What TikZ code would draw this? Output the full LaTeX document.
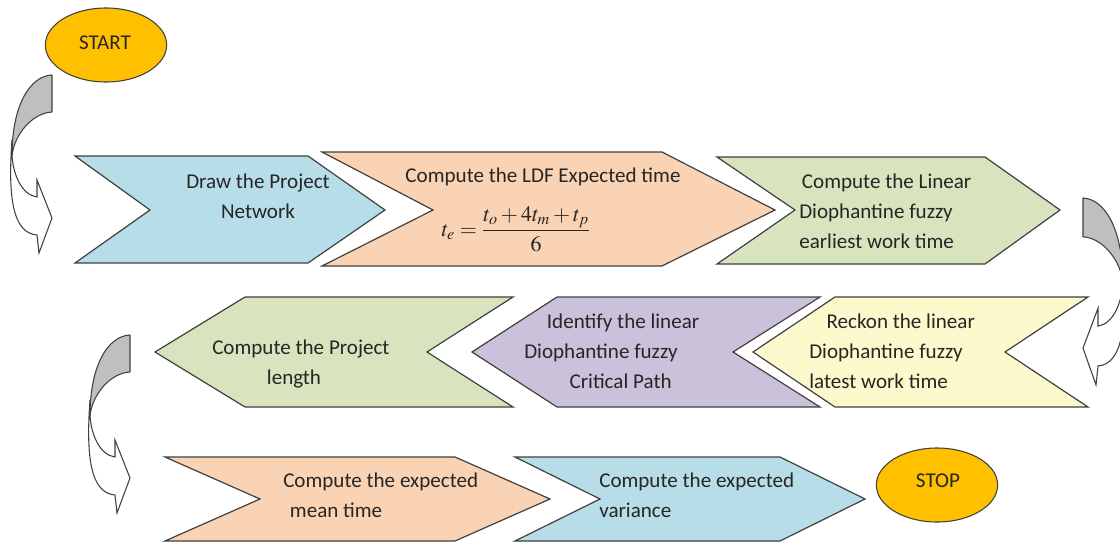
\documentclass[tikz,border=0pt]{standalone}
\usepackage{mathptmx}
\usepackage{fontspec}
\setmainfont{Carlito}
\usetikzlibrary{shapes.geometric}
\definecolor{cblue}{HTML}{B7DDE8}
\definecolor{cpeach}{HTML}{FAD3B4}
\definecolor{cgreen}{HTML}{D7E4BD}
\definecolor{cpurple}{HTML}{CCC1DA}
\definecolor{cyellow}{HTML}{FCF9CC}
\definecolor{corange}{HTML}{FFC000}
\definecolor{cgray}{HTML}{BFBFBF}
\definecolor{edgec}{HTML}{404040}
\definecolor{textc}{HTML}{262626}
\newcommand{\curvedarrowshape}{%
  \draw[frontband] (-40,65) .. controls (-44,120) and (-40,158) .. (-15,160)
     -- (-13,178) -- (0,143) -- (-15,105) -- (-15,122)
     .. controls (-30,120) and (-39,100) .. (-40,80) -- cycle;
  \draw[backband] (0,0) .. controls (-22,1) and (-40,30) .. (-40,81)
     .. controls (-38,60) and (-20,38) .. (0,37) -- cycle;}
\begin{document}
\begin{tikzpicture}[x=0.75pt,y=-0.75pt,
  chev/.style={draw=edgec, line width=0.9pt, line join=miter},
  txt/.style={font=\fontsize{15.8}{22.5}\selectfont, text=textc, inner sep=0pt},
  term/.style={ellipse, draw=edgec, line width=0.8pt, fill=corange,
    minimum width=91pt, minimum height=55.5pt, inner sep=0pt},
  backband/.style={draw=edgec, line width=0.8pt, fill=cgray, line join=round},
  frontband/.style={draw=edgec, line width=0.8pt, fill=white, line join=miter}]
\useasboundingbox[fill=white] (0,0) rectangle (1120,542);

% ---------- curved arrows ----------
\begin{scope}[shift={(52,75)}]\curvedarrowshape\end{scope}
\begin{scope}[shift={(130,335)}]\curvedarrowshape\end{scope}
\begin{scope}[shift={(1083,198)}, xscale=-1, yscale=1.05]\curvedarrowshape\end{scope}

% ---------- row 1 ----------
\draw[chev, fill=cblue] (75,156) -- (308,156) -- (385,210) -- (308,263) -- (75,263) -- (150,210) -- cycle;
\draw[chev, fill=cpeach] (322,152) -- (662,152) -- (775,210) -- (662,266) -- (322,266) -- (433,210) -- cycle;
\draw[chev, fill=cgreen] (717,157) -- (985,157) -- (1060,210) -- (985,264) -- (717,264) -- (795,210) -- cycle;

% ---------- row 2 ----------
\draw[chev, fill=cgreen] (155,352) -- (245,297) -- (513,297) -- (427,352) -- (513,407) -- (245,407) -- cycle;
\draw[chev, fill=cpurple] (472,352) -- (557,297) -- (820,297) -- (733,352) -- (820,407) -- (557,407) -- cycle;
\draw[chev, fill=cyellow] (753,352) -- (835,297) -- (1088,297) -- (1005,352) -- (1088,407) -- (835,407) -- cycle;

% ---------- row 3 ----------
\draw[chev, fill=cpeach] (165,457) -- (455,457) -- (550,499) -- (455,541) -- (165,541) -- (260,499) -- cycle;
\draw[chev, fill=cblue] (515,457) -- (780,457) -- (865,499) -- (780,541) -- (515,541) -- (600,499) -- cycle;

% ---------- terminals ----------
\node[term] (start) at (106,45) {};
\node[txt] (starttxt) at (105,43) {START};
\node[term] (stop) at (937,485) {};
\node[txt] (stoptxt) at (938,481) {STOP};

% ---------- texts ----------
\node[txt, align=center] (t1) at (258,196) {Draw the Project\\Network};
\node[txt] (t2) at (543,177) {Compute the LDF Expected time};
\node[text=textc, inner sep=0pt, font=\fontsize{16.5}{20}\selectfont] (t2f) at (516,229) {$\displaystyle t_e=\frac{t_o+4t_m+t_p}{6}$};
\node[txt, align=left, anchor=west] (t3) at (799,211) {\hspace*{2pt}Compute the Linear\\Diophantine fuzzy\\earliest work time};
\node[txt, align=left, anchor=west] (t4) at (212,364) {Compute the Project\\\hspace*{41pt}length};
\node[txt, align=left, anchor=west] (t5) at (524,351) {\hspace*{17pt}Identify the linear\\Diophantine fuzzy\\\hspace*{34pt}Critical Path};
\node[txt, align=left, anchor=west] (t6) at (809,351) {\hspace*{13pt}Reckon the linear\\Diophantine fuzzy\\latest work time};
\node[txt, align=left, anchor=west] (t7) at (283,495) {Compute the expected\\\hspace*{5pt}mean time};
\node[txt, align=left, anchor=west] (t8) at (599,495) {Compute the expected\\variance};
\end{tikzpicture}
\end{document}
